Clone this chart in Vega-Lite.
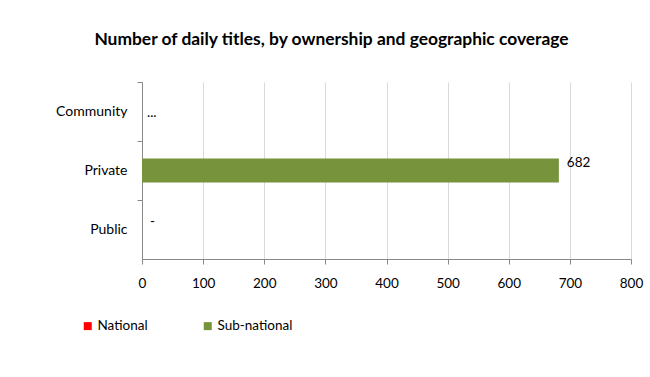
{
  "$schema": "https://vega.github.io/schema/vega-lite/v6.json",
  "width": 489,
  "height": 177,
  "autosize": {"type": "none"},
  "padding": {"left": 142, "top": 82, "right": 19, "bottom": 118},
  "background": "white",
  "config": {"view": {"stroke": null}},
  "title": {
    "text": "Number of daily titles, by ownership and geographic coverage",
    "font": "Lato",
    "fontSize": 17.4,
    "fontWeight": "bold",
    "color": "#000000",
    "anchor": "middle",
    "frame": "group",
    "dx": -55,
    "offset": 33
  },
  "datasets": {
    "bars": [
      {"category": "Community", "series": "National", "value": null},
      {"category": "Community", "series": "Sub-national", "value": null},
      {"category": "Private", "series": "National", "value": null},
      {"category": "Private", "series": "Sub-national", "value": 682},
      {"category": "Public", "series": "National", "value": null},
      {"category": "Public", "series": "Sub-national", "value": null}
    ],
    "labels": [
      {"category": "Community", "series": "National", "at": 0, "label": "..."},
      {"category": "Private", "series": "Sub-national", "at": 682, "label": "682"},
      {"category": "Public", "series": "Sub-national", "at": 0, "label": "-"}
    ]
  },
  "encoding": {
    "y": {
      "field": "category",
      "type": "nominal",
      "sort": ["Community", "Private", "Public"],
      "scale": {"paddingInner": 0, "paddingOuter": 0},
      "axis": {
        "title": null,
        "bandPosition": 0,
        "domainColor": "#888888",
        "tickColor": "#888888",
        "tickSize": 5,
        "labelFont": "Lato",
        "labelFontSize": 14,
        "labelColor": "#000000",
        "labelPadding": 10,
        "grid": false
      }
    }
  },
  "layer": [
    {
      "data": {"name": "bars"},
      "mark": {"type": "bar", "height": {"band": 0.41}},
      "encoding": {
        "x": {
          "field": "value",
          "type": "quantitative",
          "scale": {"domain": [0, 800], "nice": false},
          "axis": {
            "title": null,
            "values": [0, 100, 200, 300, 400, 500, 600, 700, 800],
            "grid": true,
            "gridColor": "#D9D9D9",
            "domainColor": "#888888",
            "tickColor": "#888888",
            "tickSize": 5,
            "labelFlush": false,
            "labelFont": "Lato",
            "labelFontSize": 13.5,
            "labelColor": "#000000",
            "labelPadding": 12
          }
        },
        "color": {
          "field": "series",
          "type": "nominal",
          "scale": {"domain": ["National", "Sub-national"], "range": ["#FF0000", "#77933C"]},
          "legend": {
            "title": null,
            "orient": "none",
            "legendX": -61,
            "legendY": 237,
            "direction": "horizontal",
            "columns": 2,
            "columnPadding": 53,
            "symbolType": "square",
            "symbolSize": 64,
            "symbolStrokeWidth": 0,
            "symbolOpacity": 1,
            "labelFont": "Lato",
            "labelFontSize": 13.5,
            "labelColor": "#000000",
            "labelOffset": 3
          }
        }
      }
    },
    {
      "data": {"name": "labels"},
      "transform": [{"filter": "datum.series === 'National'"}],
      "mark": {"type": "text", "align": "left", "dx": 5, "dy": 1, "font": "Lato", "fontSize": 13.5, "color": "#000000"},
      "encoding": {
        "x": {"field": "at", "type": "quantitative"},
        "text": {"field": "label"}
      }
    },
    {
      "data": {"name": "labels"},
      "transform": [{"filter": "datum.series === 'Sub-national'"}],
      "mark": {"type": "text", "align": "left", "dx": 8, "dy": -8, "font": "Lato", "fontSize": 13.5, "color": "#000000"},
      "encoding": {
        "x": {"field": "at", "type": "quantitative"},
        "text": {"field": "label"}
      }
    }
  ]
}
